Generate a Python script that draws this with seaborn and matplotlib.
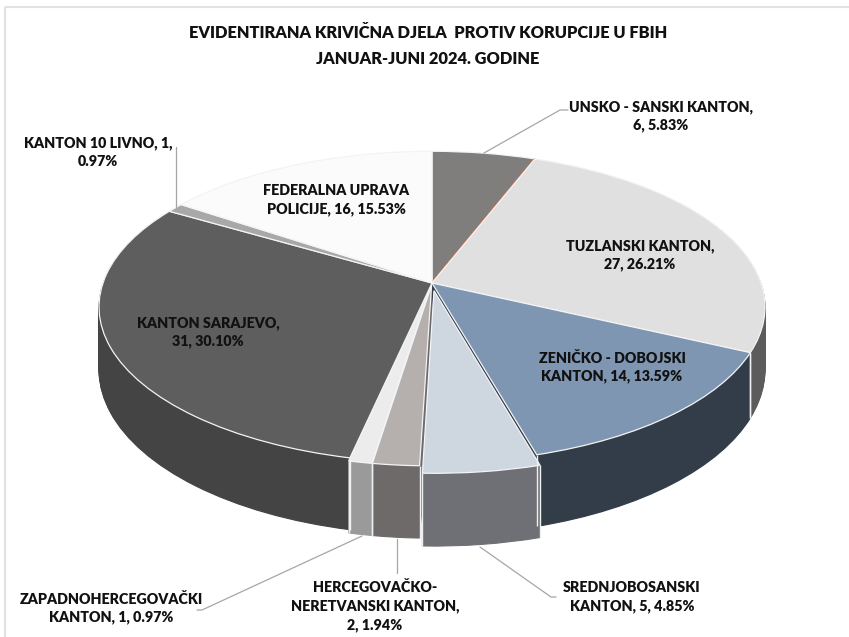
import matplotlib
matplotlib.use('Agg')
import matplotlib.pyplot as plt
import numpy as np
import seaborn as sns
from matplotlib.patches import Rectangle
from matplotlib.transforms import Transform

# one empty slice (orange hairline) sits between Unsko-Sanski and Tuzlanski
kantoni = ['UNSKO - SANSKI KANTON,', '', 'TUZLANSKI KANTON,', 'ZENIČKO - DOBOJSKI', 'SREDNJOBOSANSKI',
           'HERCEGOVAČKO-', 'ZAPADNOHERCEGOVAČKI', 'KANTON SARAJEVO,', 'KANTON 10 LIVNO, 1,', 'FEDERALNA UPRAVA']
djela = [6, 0, 27, 14, 5, 2, 1, 31, 1, 16]
udio_tekst = ['6, 5.83%', '', '27, 26.21%', 'KANTON, 14, 13.59%', 'KANTON, 5, 4.85%',
              'NERETVANSKI KANTON,\n2, 1.94%', 'KANTON, 1, 0.97%', '31, 30.10%', '0.97%', 'POLICIJE, 16, 15.53%']
boje_vrh = ['#7f7e7d', '#e8703a', '#e0e0e0', '#7f96b2', '#ced6e0', '#b5b0ad', '#ececec', '#5e5e5e', '#a8a8a8', '#fbfbfb']
boje_rub = ['#555555', '#555555', '#5c5c5c', '#323d49', '#6f7075', '#6f6a6a', '#9a9a9a', '#444444', '#444444', '#777777']
izvuceno = [0, 0, 0, 0, 0.05, 0.015, 0.015, 0, 0, 0]

naslov = 'EVIDENTIRANA KRIVIČNA DJELA  PROTIV KORUPCIJE U FBIH\nJANUAR-JUNI 2024. GODINE'

# label centres, in image pixels
pozicije = [(661, 116), None, (640, 255), (612, 367), (632, 597), (375, 606), (111, 608), (208, 332), (98, 152), (336, 200)]
vodilice = [[(484, 153), (560, 110), (568, 110)],
            [(176, 147), (176, 207)],
            [(362, 536), (202, 610), (197, 610)],
            [(397, 539), (397, 573)],
            [(480, 547), (551, 597), (556, 597)]]

CX, CY = 432, 283
R, K, P, DUB = 329, 152, 0.154, 61


class Perspektiva(Transform):
    """Unit pie circle -> image pixels, tilted disc seen in perspective."""
    input_dims = output_dims = 2

    def __init__(self, dubina=0.0):
        super().__init__()
        self.dubina = dubina

    def transform_non_affine(self, xy):
        xy = np.asarray(xy, dtype=float)
        w = 1 + P * xy[:, 1]
        return np.column_stack([CX + R * xy[:, 0] / w, CY + (-K * xy[:, 1] + self.dubina) / w])


sns.set_theme(style='white')
plt.rcParams['font.family'] = ['Lato', 'DejaVu Sans']

fig = plt.figure(figsize=(8.49, 6.37), dpi=100)
ax = fig.add_axes([0, 0, 1, 1])


def crtaj_pitu(boje, dubina, **wedgeprops):
    wedges, _ = ax.pie(djela, colors=boje, explode=izvuceno, startangle=90, counterclock=False,
                       normalize=True, wedgeprops=wedgeprops)
    for w in wedges:
        w.set_transform(Perspektiva(dubina) + ax.transData)
    return wedges


# side of the pie: stack of layers from the bottom up
for d in np.arange(DUB, 0, -1.0):
    for w in crtaj_pitu(boje_rub, d, linewidth=0.8):
        w.set_edgecolor(w.get_facecolor())

vrh = crtaj_pitu(boje_vrh, 0, linewidth=0.9, edgecolor='#f2f4f6')
vrh[1].set_edgecolor('#e8703a')
vrh[1].set_linewidth(1.6)

ax.set_aspect('auto')
ax.set_xlim(0, 849)
ax.set_ylim(637, 0)
ax.axis('off')

# white seams between the visible side faces
for w, n in zip(vrh, djela):
    if n == 0:
        continue
    for kut in (w.theta1, w.theta2):
        tocka = np.array([[w.center[0] + np.cos(np.deg2rad(kut)), w.center[1] + np.sin(np.deg2rad(kut))]])
        if tocka[0, 1] < -0.3:
            gore = Perspektiva(0).transform(tocka)[0]
            dolje = Perspektiva(DUB).transform(tocka)[0]
            ax.plot([gore[0], dolje[0]], [gore[1], dolje[1]], color='#eef0f2', lw=1.0, solid_capstyle='butt')

for tocke in vodilice:
    ax.plot(*zip(*tocke), color='#a6a6a6', lw=0.9)

for ime, udio, poz in zip(kantoni, udio_tekst, pozicije):
    if poz is not None:
        ax.text(poz[0], poz[1], f'{ime}\n{udio}', ha='center', va='center', fontsize=10.3,
                fontweight='heavy', color='#111111', linespacing=1.45)

ax.text(428, 46, naslov, ha='center', va='center', fontsize=11.8, fontweight='heavy',
        color='#111111', linespacing=1.75)

# faint chart frame
ax.add_patch(Rectangle((5, 7), 900, 700, fill=False, ec='#e2e2e2', lw=1.5))

fig.savefig('out.png', dpi=100, facecolor='white')
